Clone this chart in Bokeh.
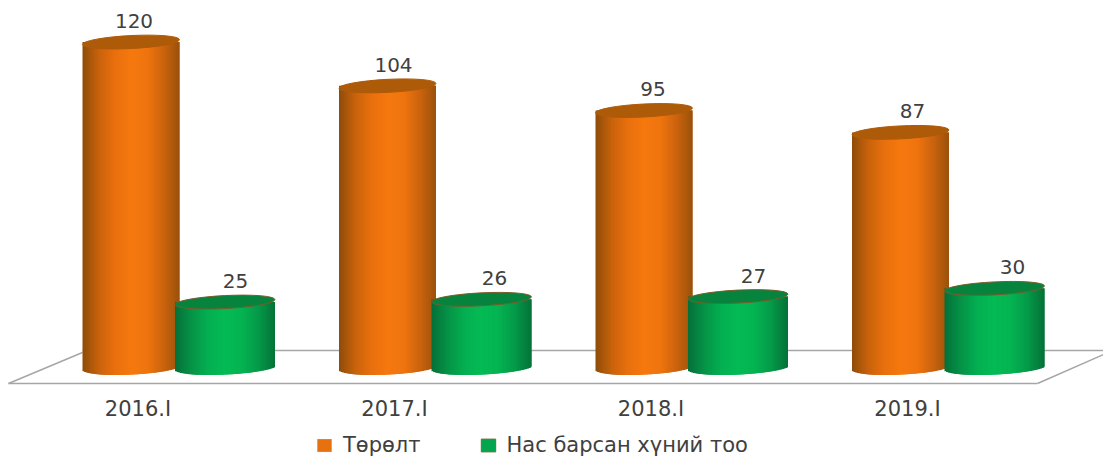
import numpy as np
from bokeh.plotting import figure
from bokeh.models import ColumnDataSource, Legend, LegendItem
from bokeh.core.properties import value
from bokeh.embed import file_html
from bokeh.resources import INLINE

categories = ["2016.I", "2017.I", "2018.I", "2019.I"]
births = [120, 104, 95, 87]
deaths = [25, 26, 27, 30]
series_names = ["Төрөлт", "Нас барсан хүний тоо"]

# layout: 1 x unit = one category group, y unit = one person
W, H = 1103, 457
PX_X = 256.5
PX_Y = 2.737
x0, x1 = -177.5 / PX_X, (W - 177.5) / PX_X
y1 = 370 / PX_Y
y0 = y1 - H / PX_Y
FONT = value("DejaVu Sans")
TEXT = "#404040"


def px_x(n):
    return n / PX_X


def px_y(n):
    return n / PX_Y


p = figure(width=W, height=H, x_range=(x0, x1), y_range=(y0, y1),
           output_backend="svg", toolbar_location=None,
           min_border=0, outline_line_color=None, background_fill_color="white",
           x_axis_type=None, y_axis_type=None)
p.grid.visible = False

# floor of the 3D chart
floor_front, floor_back = px_y(-13), px_y(20)
GREY = "#a6a6a6"
p.line([x0 + px_x(8), x0 + px_x(82)], [floor_front, px_y(18)], line_color=GREY, line_width=1.5)
p.line([x0 + px_x(82), x1], [floor_back, floor_back], line_color=GREY, line_width=1.5)
p.line([x0 + px_x(8), x0 + px_x(1037)], [floor_front, floor_front], line_color=GREY, line_width=1.5)
p.line([x0 + px_x(1037), x1], [floor_front, px_y(16)], line_color=GREY, line_width=1.5)

ORANGE = (["#8f4d0a", "#c9630c", "#e9700e", "#f6790f", "#f0750f", "#cc640e", "#9a520c"], "#ad5a09", None)
GREEN = (["#06703a", "#059447", "#04b052", "#04bb55", "#04b452", "#049a49", "#067238"], "#06843d", "#7a5c2a")


def hex_rgb(c):
    return np.array([int(c[i:i + 2], 16) for i in (1, 3, 5)], float)


def cylinder(i, val, offset_px, width_px, style, half_h):
    stops, rim, edge = style
    n = 60
    cx = i + px_x(offset_px)
    w = px_x(width_px)
    edges = np.linspace(cx - w / 2, cx + w / 2, n + 1)
    mid = (edges[:-1] + edges[1:]) / 2
    u = (mid - cx) / (w / 2)
    pos = (u + 1) / 2 * (len(stops) - 1)
    rgb = np.array([hex_rgb(c) for c in stops])
    cols = ["#%02x%02x%02x" % tuple(int(np.interp(t, range(len(stops)), rgb[:, k])) for k in range(3)) for t in pos]
    bottom = px_y(3 - 7 * np.sqrt(1 - u ** 2) + 2.5 * u)
    right = np.minimum(edges[1:] + px_x(2.5), cx + w / 2)
    p.quad(left=edges[:-1], right=right, top=[val] * n, bottom=bottom,
           fill_color=cols, line_color=None)
    p.ellipse(x=[cx], y=[val], width=[w], height=[px_y(2 * half_h)], angle=0.05,
              fill_color=rim, line_color=edge or rim, line_width=1)


for i, (b, d) in enumerate(zip(births, deaths)):
    cylinder(i, b, -47, 97, ORANGE, 6.5)
    cylinder(i, d, 47, 100, GREEN, 6.5)

# data labels
lab_x = [i + px_x(-47 + 3 + 3 * i) for i in range(4)] + [i + px_x(47 + 10.5 + 2.5 * i) for i in range(4)]
lab_v = births + deaths
src = ColumnDataSource(dict(x=lab_x, y=[v + px_y(21) for v in lab_v], t=[str(v) for v in lab_v]))
p.text("x", "y", text="t", source=src, text_font=FONT, text_font_size="20px", text_color=TEXT,
       text_align="center", text_baseline="middle")

# category labels
src2 = ColumnDataSource(dict(x=[i + px_x(-40) for i in range(4)], y=[px_y(-38)] * 4, t=categories))
p.text("x", "y", text="t", source=src2, text_font=FONT, text_font_size="21px", text_color=TEXT,
       text_align="center", text_baseline="middle")

# legend keys sit outside the visible range; only their colours are used
r1 = p.quad(left=[x1 + 1], right=[x1 + 2], top=[1], bottom=[0], fill_color="#e8710f", line_color=None)
r2 = p.quad(left=[x1 + 1], right=[x1 + 2], top=[1], bottom=[0], fill_color="#04a64d", line_color="#6b6b3a")
leg = Legend(items=[LegendItem(label=series_names[0], renderers=[r1]),
                    LegendItem(label=series_names[1], renderers=[r2])],
             orientation="horizontal", location=(315, 0), background_fill_alpha=0,
             border_line_color=None, label_text_font="DejaVu Sans", label_text_font_size="21px",
             label_text_color=TEXT, glyph_width=18, glyph_height=16, spacing=58, margin=0, padding=0,
             label_standoff=10)
p.add_layout(leg, "center")

open("out.html", "w").write(file_html(p, INLINE))
